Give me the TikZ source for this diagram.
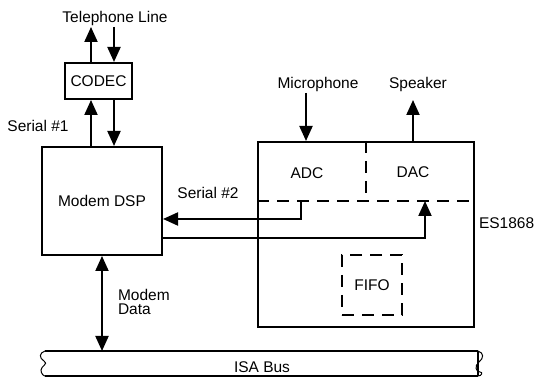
\documentclass[tikz,border=0pt]{standalone}
\usepackage{fontspec}
\setmainfont{Liberation Sans}
\usetikzlibrary{arrows.meta}
\tikzset{
  tip/.tip={Triangle[width=13pt,length=15pt]},
  arr/.style={-tip},
  dasharr/.style={dash pattern=on 12pt off 8pt},
  lbl/.style={font=\fontsize{15.5}{15.5}\selectfont, inner sep=0pt}
}
\begin{document}
\begin{tikzpicture}[x=1pt,y=-1pt,line width=2pt]
        \useasboundingbox (0,0) rectangle (536,379);

        \begin{scope}[every node/.style={draw,lbl,rectangle}]
          \node[minimum width=67pt,minimum height=36pt]   (codec) at (98.5,81)  {CODEC};
          \node[minimum width=120pt,minimum height=108pt] (dsp)   at (102,201)  {Modem DSP};
          \node[minimum width=216pt,minimum height=185pt] (es)    at (366,234.5) {};
          \node[dasharr,minimum width=60pt,minimum height=60pt] (fifo) at (372,285) {FIFO};
        \end{scope}

        \begin{scope}[every node/.style={lbl}]
          \node (tel)  at (115,18)  {Telephone Line};
          \node (ser1) at (38,126)  {Serial \#1};
          \node (ser2) at (208,193) {Serial \#2};
          \node (mic)  at (318,84)  {Microphone};
          \node (spk)  at (418,84)  {Speaker};
          \node (adc)  at (307,173) {ADC};
          \node (dac)  at (413,172) {DAC};
          \node[anchor=west] (chip) at (478,223) {ES1868};
          \node[anchor=west,align=left,font=\fontsize{15.5}{14}\selectfont] (mdata) at (117,302) {Modem\\Data};
          \node (isa)  at (262,367) {ISA Bus};
        \end{scope}

        \coordinate (a) at (91,27);
        \coordinate (b) at (114,27);
        \coordinate (c) at (306,93);
        \coordinate (d) at (413,100);
        \coordinate (m) at (366,201);
        \coordinate (s) at (301,219);
        \coordinate (t) at (425,238);
        \coordinate (bl) at (45,351);
        \coordinate (br) at (478,376);

        \draw[arr] (codec.north -| a) -- (a);
        \draw[arr] (b) -- (codec.north -| b);
        \draw[arr] (dsp.north -| a) -- (codec.south -| a);
        \draw[arr] (codec.south -| b) -- (dsp.north -| b);
        \draw[arr] (c) -- (es.north -| c);
        \draw[arr] (es.north -| d) -- (d);

        \draw[dasharr] (es.north -| m) -- (m);
        \draw[dasharr] (es.west |- m) -- (es.east |- m);

        \draw[arr] (m -| s) -- (s) -- (dsp.east |- s);
        \draw[arr] (dsp.east |- t) -- (t) -- (m -| t);

        \draw[tip-tip] (dsp.south) -- (bl -| dsp.south);

        \draw (bl) -- (bl -| br);
        \draw (br |- bl) -- (br);
        \draw (bl |- br) -- (br);
        \draw[line width=1pt] (bl) .. controls (39,353) and (39,358) .. (44,361)
          .. controls (49,364) and (41,366) .. (41,370)
          .. controls (41,374) and (44,376) .. (bl |- br);
        \draw[line width=1pt] (br |- bl) .. controls (484,353) and (484,358) .. (479,362)
          .. controls (474,366) and (476,372) .. (480,372)
          .. controls (483,372) and (482,376) .. (br);

      \end{tikzpicture}
\end{document}
